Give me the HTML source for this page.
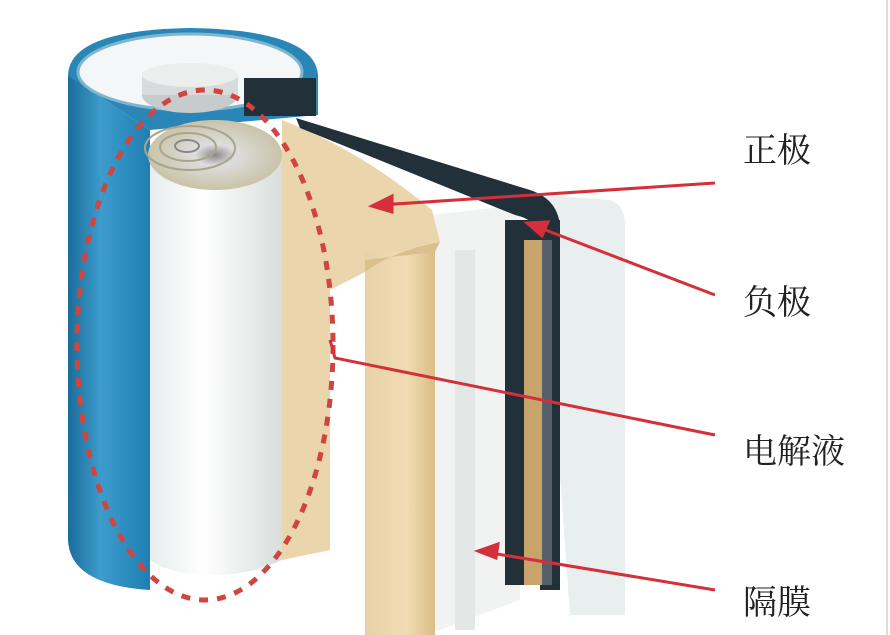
<!DOCTYPE html>
<html><head><meta charset="utf-8"><style>
html,body{margin:0;padding:0;background:#fff;}
svg{display:block}
text{font-family:"Liberation Serif","Noto Serif CJK SC",serif;font-size:34px;fill:#222;}
</style></head><body>
<svg width="890" height="635" viewBox="0 0 890 635">
<defs>
<linearGradient id="blue" x1="0" x2="1"><stop offset="0" stop-color="#1a6d9a"/><stop offset="0.4" stop-color="#3d9ccc"/><stop offset="1" stop-color="#1f7fb3"/></linearGradient>
<linearGradient id="roll" x1="0" x2="1"><stop offset="0" stop-color="#e6ecec"/><stop offset="0.4" stop-color="#ffffff"/><stop offset="1" stop-color="#d8dedc"/></linearGradient>
<linearGradient id="yel" x1="0" x2="1"><stop offset="0" stop-color="#e8d2a8"/><stop offset="0.6" stop-color="#f0dcb4"/><stop offset="1" stop-color="#d9bd84"/></linearGradient>
<radialGradient id="spiral" cx="0.5" cy="0.5" r="0.5"><stop offset="0" stop-color="#888"/><stop offset="0.3" stop-color="#ddd"/><stop offset="1" stop-color="#c9c3a8"/></radialGradient>
</defs>
<rect width="890" height="635" fill="#fff"/>
<line x1="887" y1="0" x2="887" y2="635" stroke="#ddd" stroke-width="2"/>
<path d="M540 195 L610 200 Q625 205 625 225 L625 615 L570 615 Z" fill="#e9eeee"/>
<path d="M430 215 L520 205 L520 600 L440 630 L430 630 Z" fill="#f1f3f2"/>
<rect x="455" y="250" width="20" height="380" fill="#e3e8e6"/>
<path d="M68 75 L68 540 Q70 585 150 590 L150 130 Z" fill="url(#blue)"/>
<path d="M68 75 Q70 30 190 28 Q315 30 318 75 L318 115 L150 130 Z" fill="#2a86b6"/>
<ellipse cx="190" cy="72" rx="112" ry="38" fill="#f4f7f7"/>
<ellipse cx="190" cy="72" rx="112" ry="38" fill="none" stroke="#7fb6cf" stroke-width="3"/>
<ellipse cx="190" cy="95" rx="48" ry="18" fill="#c7cbcc"/>
<rect x="142" y="75" width="96" height="20" fill="#d8dbdc"/>
<ellipse cx="190" cy="75" rx="48" ry="12" fill="#eceeee"/>
<rect x="244" y="78" width="72" height="38" fill="#22303a"/>
<path d="M150 150 L282 150 L282 560 Q250 575 215 575 Q170 575 150 560 Z" fill="url(#roll)"/>
<ellipse cx="215" cy="155" rx="67" ry="35" fill="url(#spiral)"/>
<ellipse cx="190" cy="148" rx="45" ry="22" fill="none" stroke="#a9a48c" stroke-width="2"/>
<ellipse cx="188" cy="147" rx="28" ry="14" fill="none" stroke="#a9a48c" stroke-width="2"/>
<ellipse cx="187" cy="146" rx="12" ry="6" fill="none" stroke="#888" stroke-width="2"/>
<path d="M282 120 Q360 150 432 210 L440 242 Q395 250 365 272 L330 290 L330 550 L282 560 Z" fill="#ead5ad"/>
<rect x="365" y="252" width="70" height="383" fill="url(#yel)"/>
<path d="M365 272 Q395 250 440 242 L435 252 L365 260 Z" fill="#d9c08d"/>
<path d="M296 118 L530 190 Q560 200 560 230 L560 590 L540 590 L540 245 Q540 220 515 215 L300 128 Z" fill="#22303a"/>
<rect x="505" y="220" width="55" height="365" fill="#22303a"/>
<rect x="524" y="240" width="18" height="345" fill="#c9a46a"/>
<rect x="542" y="240" width="10" height="345" fill="#55606a"/>
<ellipse cx="205" cy="345" rx="128" ry="255" fill="none" stroke="#d0453f" stroke-width="5" stroke-dasharray="9 9"/>
<g stroke="#d42f3a" stroke-width="3" fill="#d42f3a">
<line x1="715" y1="183" x2="380" y2="205"/><polygon points="372,206 392,196 392,212"/>
<line x1="715" y1="295" x2="535" y2="226"/><polygon points="527,223 548,222 542,236"/>
<polyline points="715,435 335,358 330,340" fill="none"/>
<line x1="715" y1="590" x2="485" y2="552"/><polygon points="478,551 498,544 496,558"/>
</g>
<text x="743" y="162">正极</text>
<text x="743" y="314">负极</text>
<text x="743" y="463">电解液</text>
<text x="743" y="614">隔膜</text>
</svg>
</body></html>
